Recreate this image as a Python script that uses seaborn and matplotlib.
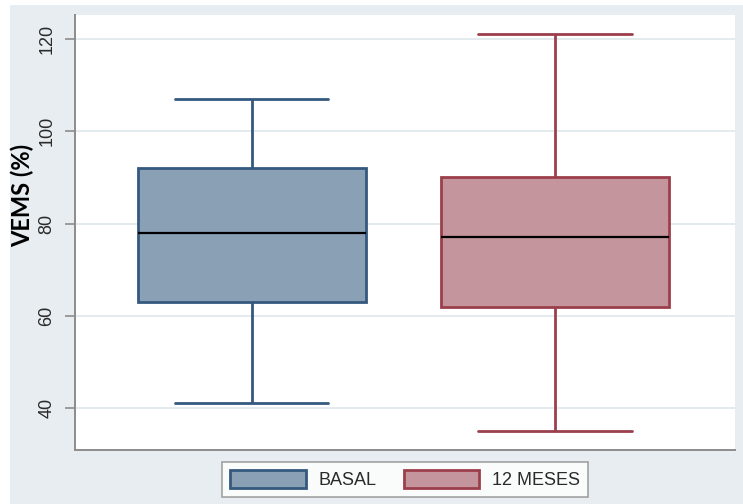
import matplotlib
matplotlib.use("Agg")
import matplotlib.pyplot as plt
from matplotlib.patches import Patch, Rectangle
import seaborn as sns
import pandas as pd

# Five-number summaries (min, Q1, median, Q3, max) of VEMS (%)
groups = ["BASAL", "12 MESES"]
basal_summary = [41, 63, 78, 92, 107]
meses12_summary = [35, 62, 77, 90, 121]
yticks = [40, 60, 80, 100, 120]

fill_colors = ["#8AA0B4", "#C4959D"]
edge_colors = ["#34597F", "#9C3F4C"]

df = pd.DataFrame({
    "grupo": [groups[0]] * len(basal_summary) + [groups[1]] * len(meses12_summary),
    "VEMS": basal_summary + meses12_summary,
})

sns.set_style("white")
plt.rcParams["font.family"] = ["Liberation Sans", "DejaVu Sans"]

fig = plt.figure(figsize=(7.43, 5.04), dpi=100)
fig.patch.set_facecolor("white")
fig.add_artist(Rectangle((10 / 743, 0), 1, 499 / 504, transform=fig.transFigure,
                         facecolor="#E7EDF0", edgecolor="none", zorder=0))

ax = fig.add_axes([75 / 743, 1 - 450 / 504, 660 / 743, 435 / 504])
ax.set_facecolor("white")

for g, fc, ec in zip(groups, fill_colors, edge_colors):
    sns.boxplot(
        data=df[df["grupo"] == g], x="grupo", y="VEMS", order=groups,
        color=fc, linecolor=ec, saturation=1, width=0.752, whis=(0, 100),
        linewidth=2.0, capwidths=0.505, showfliers=False,
        medianprops=dict(color="black", linewidth=1.6), ax=ax,
    )

ax.set_xlim(-0.584, 1.594)
ax.set_ylim(30.9, 125.2)
ax.set_yticks(yticks)
ax.set_yticklabels([str(t) for t in yticks], rotation=90, va="center",
                   fontsize=13, color="#2a2a2a")
ax.set_xticks([])
ax.set_xlabel("")
ax.tick_params(axis="y", length=7, width=1.2, color="#8C8C8C", pad=7, left=True)
ax.yaxis.grid(True, color="#E4EBEE", linewidth=1.4)
ax.set_axisbelow(True)

for side in ["top", "right"]:
    ax.spines[side].set_visible(False)
for side in ["left", "bottom"]:
    ax.spines[side].set_color("#8C8C8C")
    ax.spines[side].set_linewidth(1.4)

ax.set_ylabel("VEMS (%)", fontsize=17, fontweight="bold", family="Lato", color="black")
ax.yaxis.set_label_coords(-0.062, 0.586)

handles = [Patch(facecolor=fc, edgecolor=ec, linewidth=2.0) for fc, ec in zip(fill_colors, edge_colors)]
leg = ax.legend(handles, groups, loc="upper center", bbox_to_anchor=(0.5, -0.0276),
                borderaxespad=0, ncol=2, fontsize=13, frameon=True, fancybox=False,
                handlelength=4.2, handleheight=1.15, handletextpad=0.7,
                columnspacing=1.5, borderpad=0.45)
leg.get_frame().set_edgecolor("#8C8C8C")
leg.get_frame().set_linewidth(1.2)
leg.get_frame().set_facecolor("white")
for t in leg.get_texts():
    t.set_color("#2a2a2a")

fig.savefig("out.png", dpi=100)
